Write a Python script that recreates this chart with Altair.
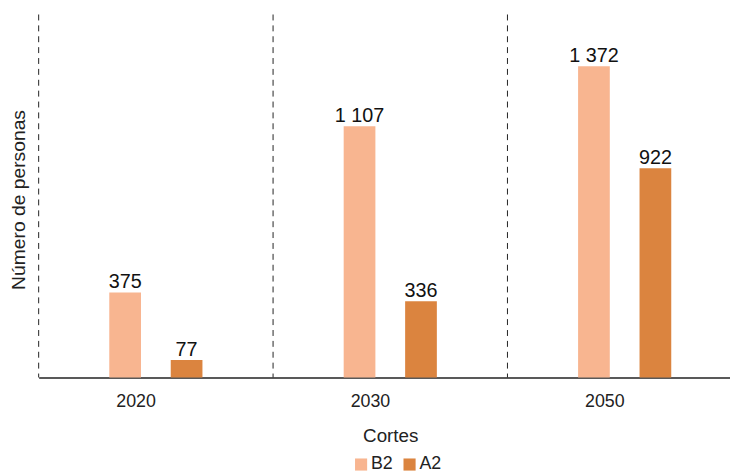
import altair as alt
import pandas as pd

years = ["2020", "2030", "2050"]
series = ["B2", "A2"]
b2_values = [375, 1107, 1372]
a2_values = [77, 336, 922]
b2_labels = ["375", "1 107", "1 372"]
a2_labels = ["77", "336", "922"]
colors = ["#F8B590", "#DB843F"]

rows = []
for i, yr in enumerate(years):
    rows.append({"Corte": yr, "Serie": "B2", "Valor": b2_values[i], "Etiqueta": b2_labels[i]})
    rows.append({"Corte": yr, "Serie": "A2", "Valor": a2_values[i], "Etiqueta": a2_labels[i]})
df = pd.DataFrame(rows)
sep_df = pd.DataFrame({"Corte": years})

FONT = "Liberation Sans"
BAND = 237

x_enc = alt.X(
    "Corte:N",
    sort=years,
    title="Cortes",
    scale=alt.Scale(domain=years, paddingInner=0, paddingOuter=0),
    axis=alt.Axis(
        labelAngle=0, ticks=False, tickSize=0, labelPadding=24, labelFontSize=18,
        labelFont=FONT, labelColor="#222", domainColor="#222", domainWidth=1.6,
        titleFont=FONT, titleFontSize=19, titleFontWeight="normal", titleColor="#222",
        titlePadding=17, grid=False,
    ),
)
y_enc = alt.Y(
    "Valor:Q",
    scale=alt.Scale(domain=[0, 1600], nice=False),
    axis=alt.Axis(
        title="Número de personas", labels=False, ticks=False, domain=False, grid=False,
        titleFont=FONT, titleFontSize=19.5, titleFontWeight="normal", titleColor="#222",
        titlePadding=10, titleY=187,
    ),
)
xoff = alt.XOffset(
    "Serie:N", sort=series,
    scale=alt.Scale(domain=series, range=[71.4, 165.6], paddingInner=0.484, paddingOuter=0),
)

seps = alt.Chart(sep_df).mark_rule(color="#222", strokeDash=[6, 5], strokeWidth=1).encode(
    x=alt.X("Corte:N", sort=years, bandPosition=0)
)

bars = alt.Chart(df).mark_bar().encode(
    x=x_enc,
    xOffset=xoff,
    y=y_enc,
    color=alt.Color(
        "Serie:N", sort=series,
        scale=alt.Scale(domain=series, range=colors),
        legend=alt.Legend(
            title=None, orient="none", direction="horizontal", legendX=317, legendY=446,
            symbolType="square", symbolSize=150, symbolStrokeWidth=0, labelFont=FONT,
            labelFontSize=18, labelColor="#222", labelOffset=1, columnPadding=7,
        ),
    ),
)

texts = alt.Chart(df).mark_text(baseline="alphabetic", dy=-4, fontSize=20, font=FONT, color="#111").encode(
    x=alt.X("Corte:N", sort=years),
    xOffset=xoff,
    y=alt.Y("Valor:Q"),
    text="Etiqueta:N",
)

chart = alt.layer(seps, bars, texts).properties(
    width=3 * BAND,
    height=367,
    padding={"left": 31, "top": 4, "right": -12, "bottom": 96},
    autosize=alt.AutoSizeParams(type="none"),
).configure_view(strokeWidth=0)

chart.save("out.html", embed_options={"renderer": "svg", "actions": False})
